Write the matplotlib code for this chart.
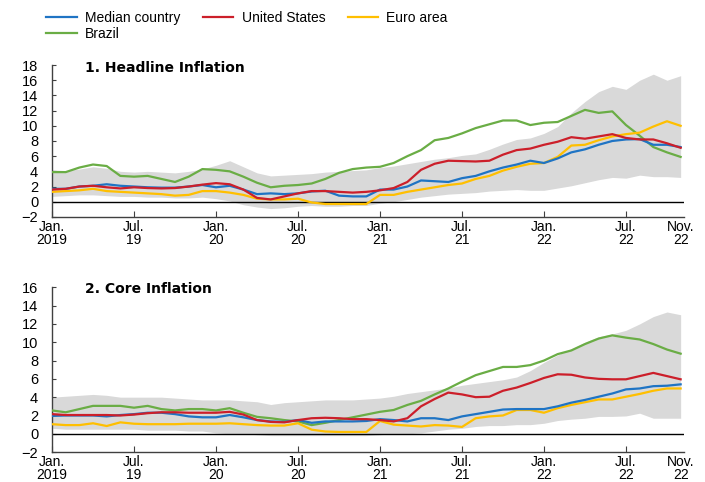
import numpy as np
import matplotlib
matplotlib.use('Agg')
import matplotlib.pyplot as plt

plt.rcParams['font.family'] = ['Liberation Sans', 'DejaVu Sans']

# monthly, Jan 2019 .. Nov 2022
months = np.arange(47)
tick_pos = [0, 6, 12, 18, 24, 30, 36, 42, 46]
tick_labels = ['Jan.\n2019', 'Jul.\n19', 'Jan.\n20', 'Jul.\n20', 'Jan.\n21',
               'Jul.\n21', 'Jan.\n22', 'Jul.\n22', 'Nov.\n22']

# 1. Headline inflation
head_median = [1.7, 1.7, 2.0, 2.1, 2.3, 2.1, 2.0, 1.9, 1.85, 1.85, 2.0, 2.2, 1.9, 2.1, 1.6, 1.0,
               1.1, 1.0, 1.1, 1.35, 1.45, 0.8, 0.7, 0.7, 1.6, 1.6, 2.0, 2.8, 2.7, 2.6, 3.1,
               3.4, 4.0, 4.5, 4.9, 5.4, 5.1, 5.7, 6.5, 6.9, 7.5, 8.0, 8.2, 8.25, 7.5, 7.5, 7.2]
head_us = [1.6, 1.7, 2.0, 2.1, 1.9, 1.75, 1.9, 1.8, 1.75, 1.8, 2.0, 2.25, 2.45, 2.3, 1.6, 0.5,
           0.3, 0.7, 1.1, 1.4, 1.4, 1.3, 1.2, 1.3, 1.5, 1.8, 2.6, 4.2, 5.0, 5.4, 5.35,
           5.3, 5.4, 6.2, 6.8, 7.0, 7.5, 7.9, 8.5, 8.3, 8.6, 8.9, 8.4, 8.2, 8.2, 7.7, 7.1]
head_euro = [1.3, 1.4, 1.5, 1.7, 1.4, 1.3, 1.2, 1.1, 1.0, 0.8, 0.9, 1.4, 1.4, 1.2, 0.9, 0.4,
             0.3, 0.3, 0.4, -0.1, -0.3, -0.3, -0.3, -0.3, 0.9, 0.9, 1.3, 1.6, 1.9, 2.2, 2.4,
             3.0, 3.4, 4.1, 4.6, 5.0, 5.1, 5.9, 7.4, 7.5, 8.1, 8.6, 8.9, 9.1, 9.9, 10.6, 10.0]
head_brazil = [3.9, 3.9, 4.5, 4.9, 4.7, 3.4, 3.3, 3.4, 3.0, 2.6, 3.3, 4.3, 4.2, 4.0, 3.3, 2.5,
               1.9, 2.1, 2.2, 2.4, 3.0, 3.8, 4.3, 4.5, 4.6, 5.1, 6.0, 6.8, 8.1, 8.4, 9.0,
               9.7, 10.2, 10.7, 10.7, 10.1, 10.4, 10.5, 11.3, 12.1, 11.7, 11.9, 10.1, 8.7, 7.2, 6.5, 5.9]
head_hi = [4.2, 4.1, 4.3, 4.6, 4.4, 4.0, 3.9, 4.0, 3.9, 3.8, 4.0, 4.3, 4.8, 5.4, 4.6, 3.8,
           3.4, 3.5, 3.6, 3.7, 3.9, 4.0, 4.1, 4.2, 4.5, 4.7, 5.0, 5.3, 5.6, 5.8, 6.1,
           6.3, 6.9, 7.6, 8.2, 8.4, 9.0, 9.9, 11.7, 13.2, 14.5, 15.2, 14.8, 16.0, 16.8, 16.0, 16.6]
head_lo = [0.7, 0.8, 0.9, 0.9, 0.8, 0.7, 0.7, 0.6, 0.6, 0.5, 0.5, 0.6, 0.4, 0.1, -0.4, -0.7,
           -0.9, -0.8, -0.6, -0.5, -0.6, -0.6, -0.5, -0.5, -0.2, 0.0, 0.3, 0.6, 0.8, 1.0, 1.1,
           1.2, 1.4, 1.5, 1.6, 1.5, 1.5, 1.8, 2.1, 2.5, 2.9, 3.2, 3.1, 3.5, 3.3, 3.3, 3.2]

# 2. Core inflation
core_median = [1.95, 2.0, 2.0, 2.0, 1.9, 2.05, 2.15, 2.3, 2.3, 2.15, 1.9, 1.8, 1.8, 2.05, 1.8, 1.5,
               1.35, 1.3, 1.5, 1.2, 1.35, 1.35, 1.35, 1.4, 1.6, 1.5, 1.35, 1.7, 1.7, 1.5, 1.9,
               2.15, 2.4, 2.65, 2.7, 2.7, 2.7, 3.0, 3.4, 3.7, 4.05, 4.4, 4.85, 4.95, 5.2, 5.25, 5.4]
core_us = [2.15, 2.05, 2.05, 2.05, 2.05, 2.0, 2.1, 2.25, 2.35, 2.35, 2.3, 2.3, 2.3, 2.4, 2.1, 1.5,
           1.3, 1.25, 1.5, 1.7, 1.75, 1.7, 1.6, 1.6, 1.5, 1.35, 1.7, 3.0, 3.8, 4.5, 4.3,
           4.0, 4.05, 4.7, 5.05, 5.55, 6.1, 6.5, 6.45, 6.15, 6.0, 5.95, 5.95, 6.3, 6.65, 6.3, 5.95]
core_euro = [1.05, 0.95, 0.95, 1.15, 0.85, 1.25, 1.1, 1.05, 1.05, 1.05, 1.1, 1.1, 1.1, 1.15, 1.05, 0.95,
             0.9, 0.9, 1.15, 0.45, 0.25, 0.2, 0.2, 0.2, 1.4, 1.0, 0.9, 0.8, 0.95, 0.9, 0.75,
             1.7, 1.9, 2.0, 2.6, 2.6, 2.3, 2.8, 3.15, 3.45, 3.75, 3.75, 4.05, 4.35, 4.7, 4.95, 4.95]
core_brazil = [2.55, 2.35, 2.7, 3.05, 3.05, 3.05, 2.85, 3.05, 2.7, 2.55, 2.7, 2.7, 2.55, 2.8, 2.3, 1.85,
               1.7, 1.5, 1.35, 0.95, 1.2, 1.5, 1.8, 2.1, 2.4, 2.6, 3.15, 3.6, 4.3, 4.95, 5.7,
               6.4, 6.85, 7.3, 7.3, 7.5, 8.0, 8.7, 9.1, 9.8, 10.4, 10.75, 10.5, 10.3, 9.8, 9.2, 8.75]
core_hi = [4.0, 4.1, 4.2, 4.3, 4.2, 4.0, 4.0, 4.0, 4.0, 3.9, 3.8, 3.7, 3.7, 3.7, 3.6, 3.5,
           3.2, 3.4, 3.5, 3.6, 3.7, 3.7, 3.7, 3.8, 3.9, 4.1, 4.4, 4.6, 4.8, 5.0, 5.3,
           5.5, 5.7, 5.9, 6.2, 6.9, 7.8, 8.6, 9.3, 10.0, 10.6, 10.9, 11.3, 12.0, 12.8, 13.3, 13.0]
core_lo = [0.6, 0.5, 0.5, 0.5, 0.5, 0.5, 0.5, 0.4, 0.4, 0.4, 0.3, 0.3, 0.1, 0.0, 0.0, -0.1,
           -0.2, -0.2, -0.2, -0.2, -0.2, -0.2, -0.2, -0.2, -0.1, 0.0, 0.0, 0.1, 0.3, 0.5, 0.6,
           0.8, 0.9, 0.9, 1.0, 1.0, 1.15, 1.45, 1.6, 1.7, 1.9, 1.9, 1.95, 2.25, 1.7, 1.7, 1.7]

c_median = '#1f74c4'
c_us = '#cc1f2a'
c_euro = '#ffbf00'
c_brazil = '#6aad45'
c_band = '#d9d9d9'

fig = plt.figure(figsize=(7.05, 4.82), dpi=100)
ax1 = fig.add_axes([0.0738, 0.550, 0.8965, 0.315])
ax2 = fig.add_axes([0.0738, 0.062, 0.8965, 0.342])


def draw_panel(ax, title, med, us, euro, bra, lo, hi, ymax):
    ax.fill_between(months, lo, hi, color=c_band, lw=0, zorder=1)
    ax.axhline(0, color='black', lw=1.0, zorder=2)
    ax.plot(months, bra, color=c_brazil, lw=1.6, zorder=3)
    ax.plot(months, euro, color=c_euro, lw=1.6, zorder=4)
    ax.plot(months, med, color=c_median, lw=1.6, zorder=5)
    ax.plot(months, us, color=c_us, lw=1.6, zorder=6)
    ax.set_xlim(0, 46.25)
    ax.set_ylim(-2, ymax)
    ax.set_yticks(range(-2, ymax + 1, 2))
    ax.set_xticks(tick_pos)
    ax.set_xticklabels(tick_labels, linespacing=0.95)
    for s in ['top', 'right']:
        ax.spines[s].set_visible(False)
    for s in ['left', 'bottom']:
        ax.spines[s].set_color('#404040')
        ax.spines[s].set_linewidth(1.0)
    ax.tick_params(axis='y', direction='in', length=3, pad=10, labelsize=10.5,
                   colors='#404040', labelcolor='black')
    ax.tick_params(axis='x', direction='in', length=4, pad=2, labelsize=10,
                   colors='#404040', labelcolor='black')
    ax.xaxis.get_major_ticks()[-1].tick1line.set_visible(False)
    ax.text(0.052, 1.03, title, transform=ax.transAxes, fontsize=10,
            fontweight='bold', family='DejaVu Sans', va='top', ha='left')


draw_panel(ax1, '1. Headline Inflation', head_median, head_us, head_euro,
           head_brazil, head_lo, head_hi, 18)
draw_panel(ax2, '2. Core Inflation', core_median, core_us, core_euro,
           core_brazil, core_lo, core_hi, 16)

handles = [plt.Line2D([], [], color=c, lw=1.6) for c in
           [c_median, c_brazil, c_us, c_euro]]
labels = ['Median country', 'Brazil', 'United States', 'Euro area']
fig.legend(handles, labels, ncol=3, loc='upper left', bbox_to_anchor=(0.05, 1.0),
           frameon=False, fontsize=10, handlelength=2.2, handletextpad=0.6,
           columnspacing=1.6, labelspacing=0.15, borderaxespad=0.4)

fig.savefig('out.png', dpi=100)
